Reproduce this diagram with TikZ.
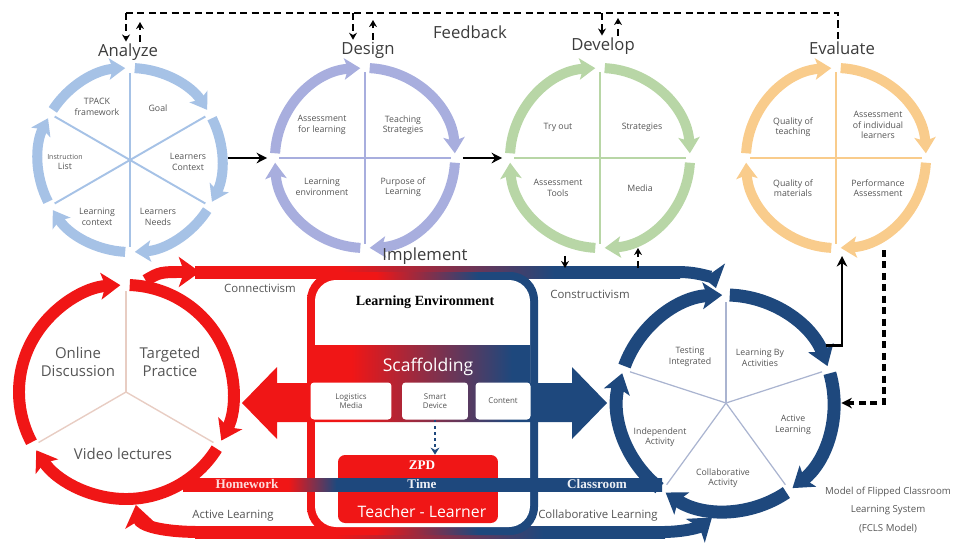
\documentclass[tikz,border=0pt]{standalone}
\usepackage{fontspec}
\setmainfont{Open Sans}
\newfontfamily\fclsserif{Liberation Serif}
\usetikzlibrary{arrows.meta,calc,positioning}

\definecolor{anablue}{RGB}{166,194,230}
\definecolor{deslav}{RGB}{168,174,222}
\definecolor{devgreen}{RGB}{184,214,166}
\definecolor{evaorange}{RGB}{249,204,140}
\definecolor{fclsred}{RGB}{240,22,22}
\definecolor{fclsnavy}{RGB}{30,72,125}
\definecolor{txtgray}{RGB}{85,85,85}
\definecolor{titlegray}{RGB}{60,60,60}
\definecolor{homespoke}{RGB}{232,205,195}
\definecolor{classspoke}{RGB}{170,180,208}

\pgfdeclarehorizontalshading{fclsshade}{100bp}{color(0bp)=(fclsred); color(40bp)=(fclsred); color(62bp)=(fclsnavy); color(100bp)=(fclsnavy)}
\pgfdeclarehorizontalshading{stripshade}{100bp}{color(0bp)=(fclsred); color(36bp)=(fclsred); color(41bp)=(fclsnavy); color(100bp)=(fclsnavy)}

\tikzset{
  phase/.style={circle, minimum size=3.9cm, inner sep=0pt},
  ringarc/.style={line width=5.7pt, -{Stealth[length=9pt,width=12pt,inset=2pt]}},
  homering/.style={line width=6.8pt, fclsred, -{Stealth[length=11pt,width=15pt,inset=2.5pt]}},
  classring/.style={line width=7.4pt, fclsnavy, -{Stealth[length=11pt,width=15pt,inset=2.5pt]}},
  spoke/.style={line width=1.1pt},
  small/.style={font=\fontsize{5}{6}\selectfont, text=txtgray, align=center, inner sep=1pt},
  title/.style={font=\fontsize{9.5}{11}\selectfont, text=titlegray, inner sep=1pt},
  textlbl/.style={font=\fontsize{6.5}{8}\selectfont, text=txtgray, inner sep=1pt},
  bigtxt/.style={font=\fontsize{8.5}{10}\selectfont, text=txtgray, align=center, inner sep=1pt},
  phasearrow/.style={line width=1.6pt, -{Stealth[length=6pt,width=6pt]}},
  fbline/.style={line width=1.4pt, dash pattern=on 4pt off 2.5pt},
  fbtip/.style={-{Stealth[length=4pt,width=4.5pt]}},
  band/.style={line width=6.8pt, -{Stealth[length=12pt,width=17pt,inset=3pt]}},
  toolbox/.style={fill=white, rounded corners=2pt, minimum height=0.74cm, font=\fontsize{4.5}{5.5}\selectfont, text=txtgray, align=center, inner sep=1pt},
  striptext/.style={font=\fclsserif\bfseries\fontsize{7.5}{9}\selectfont, inner sep=1pt},
}

\begin{document}
\begin{tikzpicture}[x=0.02cm,y=-0.02cm]
\useasboundingbox (0,0) rectangle (960,545);

%% Analyze
\node[phase] (ana) at (130,160) {};
\foreach \b in {-90,-30,...,210}{
  \draw[spoke, anablue] (ana.center) -- ($(ana)+(\b:87)$);
  \draw[ringarc, anablue] ($(ana)+(\b+3:92)$) arc[start angle=\b+3, end angle=\b+57, radius=92];
}
\node[small] (tpack) at (97,107) {TPACK\\framework};
\node[small] (goal) at (158,108) {Goal};
\node[small] (lcontext) at (188,162) {Learners\\Context};
\node[small] (lneeds) at (158,217) {Learners\\Needs};
\node[small] (lctx) at (97,217) {Learning\\context};
\node[small] (instr) at (65,162) {{\fontsize{4}{5}\selectfont Instruction}\\List};
\node[title] (anatitle) at (128,52) {Analyze};

%% Design
\node[phase] (des) at (365,158) {};
\foreach \b in {-90,0,90,180}{
  \draw[spoke, deslav] (des.center) -- ($(des)+(\b:86)$);
  \draw[ringarc, deslav] ($(des)+(\b+3:90)$) arc[start angle=\b+3, end angle=\b+87, radius=90];
}
\node[small] (afl) at (322,125) {Assessment\\for learning};
\node[small] (teach) at (403,125) {Teaching\\Strategies};
\node[small] (lenvir) at (322,187) {Learning\\environment};
\node[small] (purp) at (403,187) {Purpose of\\Learning};
\node[title] (destitle) at (368,50) {Design};

%% Develop
\node[phase] (dev) at (600,158) {};
\foreach \b in {-90,0,90,180}{
  \draw[spoke, devgreen] (dev.center) -- ($(dev)+(\b:86)$);
  \draw[ringarc, devgreen] ($(dev)+(\b+3:90)$) arc[start angle=\b+3, end angle=\b+87, radius=90];
}
\node[small] (tryout) at (558,127) {Try out};
\node[small] (strat) at (642,127) {Strategies};
\node[small] (atools) at (558,188) {Assessment\\Tools};
\node[small] (media) at (640,188) {Media};
\node[title] (devtitle) at (603,46) {Develop};

%% Evaluate
\node[phase] (eva) at (836,158) {};
\foreach \b in {-90,0,90,180}{
  \draw[spoke, evaorange] (eva.center) -- ($(eva)+(\b:86)$);
  \draw[ringarc, evaorange] ($(eva)+(\b+3:90)$) arc[start angle=\b+3, end angle=\b+87, radius=90];
}
\node[small] (qteach) at (793,127) {Quality of\\teaching};
\node[small] (aind) at (878,125) {Assessment\\of individual\\learners};
\node[small] (qmat) at (793,188) {Quality of\\materials};
\node[small] (perf) at (878,188) {Performance\\Assessment};
\node[title] (evatitle) at (842,48) {Evaluate};

%% phase arrows
\draw[phasearrow] (ana.east |- des.west) -- (des.west);
\draw[phasearrow] (des.east) -- (dev.west);

%% feedback
\node[title] (fbtitle) at (470,32) {Feedback};
\coordinate (fbana) at (126,13);
\coordinate (fbeva) at (838,13);
\coordinate (upana) at (140,22);
\coordinate (fbdes) at (353,13);
\coordinate (updes) at (373,20);
\coordinate (fbdev) at (602,13);
\coordinate (updev) at (618,18);
\draw[fbline] (fbana) -- (fbeva) -- (evatitle.north -| fbeva);
\draw[fbline, fbtip] (fbana) -- (fbana |- anatitle.north);
\draw[fbline, fbtip] (upana |- anatitle.north) -- (upana);
\draw[fbline, fbtip] (fbdes) -- (fbdes |- destitle.north);
\draw[fbline, fbtip] (updes |- destitle.north) -- (updes);
\draw[fbline, fbtip] (fbdev) -- (fbdev |- devtitle.north);
\draw[fbline, fbtip] (updev |- devtitle.north) -- (updev);

%% Implement
\node[circle, minimum size=4.52cm, inner sep=0pt] (home) at (126,392) {};
\node[circle, minimum size=4.6cm, inner sep=0pt] (class) at (726,403) {};

% bands
\shade[shading=fclsshade] (195,266) rectangle (680,278);
\shade[shading=fclsshade] (195,526) rectangle (665,538);
\draw[band, fclsred] (home.80) .. controls (160,272) .. (200,272);
\draw[band, fclsnavy] (678,272) .. controls (705,272) and (714,281) .. (class.95);
\draw[band, fclsred] (200,532) .. controls (160,532) and (140,525) .. (home.-85);
\draw[band, fclsnavy] (662,532) .. controls (685,532) and (700,527) .. (class.-97);

% learning environment box
\shade[shading=fclsshade, rounded corners=16pt] (307,272) rectangle (538,535);
\fill[white, rounded corners=12pt] (315,280) rectangle (530,527);
\node[font=\fclsserif\bfseries\fontsize{8}{10}\selectfont, inner sep=1pt] (lenv) at (425,302) {Learning Environment};

% scaffolding double arrow
\shade[shading=fclsshade] (242,403) -- (277,367) -- (277,383) -- (315,383) -- (315,345)
  -- (530,345) -- (530,383) -- (572,383) -- (572,367) -- (607,403) -- (572,439)
  -- (572,422) -- (277,422) -- (277,439) -- cycle;
\node[font=\fontsize{10}{12}\selectfont, text=white, inner sep=1pt] (scaff) at (428,367) {Scaffolding};
\node[toolbox, minimum width=1.62cm] (logi) at (351,401) {Logistics\\Media};
\node[toolbox, minimum width=1.32cm] (smart) at (435,401) {Smart\\Device};
\node[toolbox, minimum width=1.1cm] (content) at (503,401) {Content};

% ZPD
\node[fill=fclsred, rounded corners=4pt, minimum width=3.2cm, minimum height=1.36cm] (zpd) at (418,489) {};
\draw[fclsnavy, line width=1.5pt, dotted, -{Stealth[length=4pt,width=5pt]}] (smart.south) -- (smart.south |- zpd.north);
\node[striptext, text=white] (zpdt) at (422,465) {ZPD};
\node[font=\fontsize{9}{11}\selectfont, text=white, inner sep=1pt] (tl) at (422,512) {Teacher - Learner};

% homework / classroom strip
\shade[shading=stripshade] (183,478) rectangle (662,491);
\node[striptext, text=white!85!fclsred] (hw) at (247,484) {Homework};
\node[striptext, text=white!92!fclsnavy] (time) at (422,484) {Time};
\node[striptext, text=white!92!fclsnavy] (cr) at (597,484) {Classroom};

% homework circle
\foreach \b in {-90,30,150}{
  \draw[spoke, homespoke, line width=0.8pt] (home.center) -- ($(home)+(\b:101)$);
  \draw[homering] ($(home)+(\b+2:107)$) arc[start angle=\b+2, end angle=\b+117, radius=107];
}
\node[bigtxt] (online) at (78,362) {Online\\Discussion};
\node[bigtxt] (target) at (170,362) {Targeted\\Practice};
\node[bigtxt] (video) at (123,454) {Video lectures};

% classroom circle
\foreach \b in {-90,-18,...,198}{
  \draw[spoke, classspoke, line width=0.7pt] (class.center) -- ($(class)+(\b:101)$);
  \draw[classring] ($(class)+(\b+2:108)$) arc[start angle=\b+2, end angle=\b+70, radius=108];
}
\node[small] (testint) at (690,357) {Testing\\Integrated};
\node[small] (lbyact) at (760,358) {Learning By\\Activities};
\node[small] (actlrn) at (793,425) {Active\\Learning};
\node[small] (indep) at (660,437) {Independent\\Activity};
\node[small] (collab) at (723,478) {Collaborative\\Activity};

% band texts
\node[title] (impl) at (425,256) {Implement};
\node[textlbl] (connect) at (260,288) {Connectivism};
\node[textlbl] (construct) at (590,294) {Constructivism};
\node[textlbl] (actl) at (233,516) {Active Learning};
\node[textlbl] (coll) at (598,516) {Collaborative Learning};

%% implement <-> develop / evaluate
\coordinate (devdown) at (565,268);
\coordinate (devup) at (638,248);
\coordinate (impup) at (638,268);
\draw[line width=1.2pt, fbtip] (devdown |- dev.south) -- (devdown);
\draw[fbline, fbtip] (impup) -- (devup);
\coordinate (evain) at (842,256);
\coordinate (evaout) at (884,250);
\draw[line width=1.4pt, -{Stealth[length=6pt,width=6pt]}] (class.30) -| (evain);
\draw[fbline, line width=1.8pt, -{Stealth[length=6pt,width=6pt]}] (evaout) |- (class.east);

\node[small, font=\fontsize{5.5}{10.5}\selectfont] (fcls) at (888,510) {Model of Flipped Classroom\\Learning System\\(FCLS Model)};

\end{tikzpicture}
\end{document}
